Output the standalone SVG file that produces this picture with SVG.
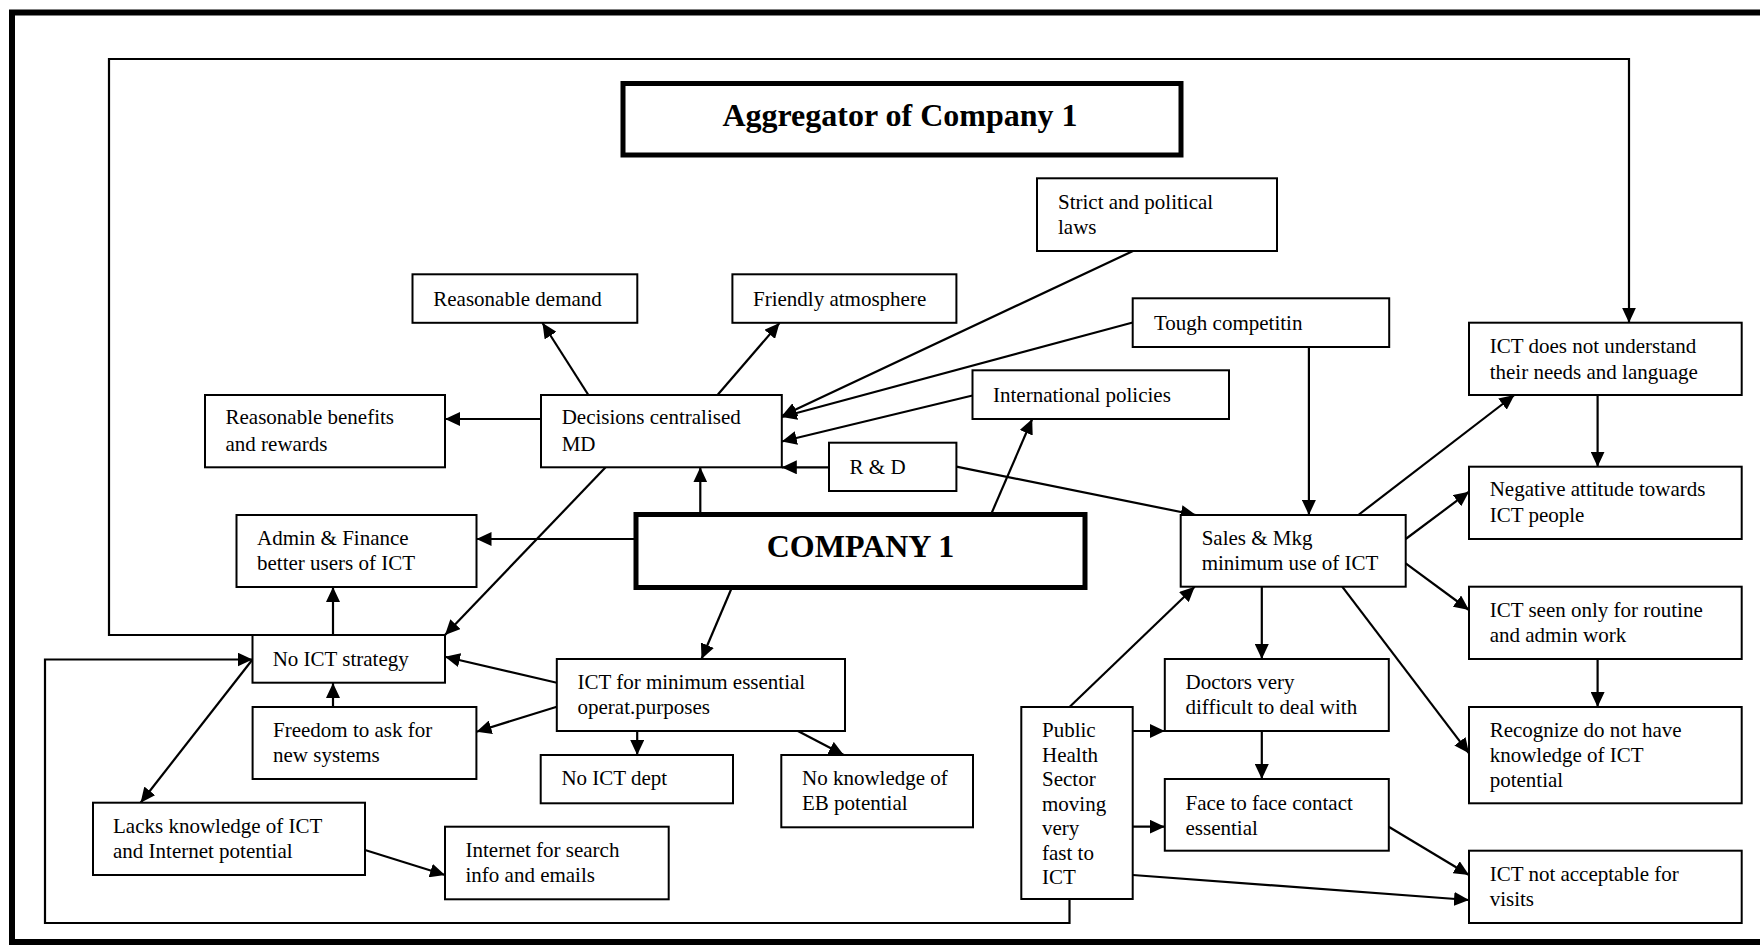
<svg xmlns="http://www.w3.org/2000/svg" width="1760" height="945" viewBox="0 0 1760 945">
  <style>
    .box { fill: #ffffff; stroke: #000000; stroke-width: 2; }
    .bold-box { fill: #ffffff; stroke: #000000; stroke-width: 5; }
    .t { font-family: "Liberation Serif", "Times New Roman", serif; font-size: 21px; fill: #000000; }
    .title { font-family: "Liberation Serif", "Times New Roman", serif; font-size: 32px; font-weight: bold; fill: #000000; text-anchor: middle; }
    .c { fill: none; stroke: #000000; stroke-width: 2; }
    .a { fill: none; stroke: #000000; stroke-width: 2.2; marker-end: url(#ah); }
  </style>
  <defs>
    <marker id="ah" viewBox="0 0 15 14" refX="15" refY="7" markerWidth="15" markerHeight="14" markerUnits="userSpaceOnUse" orient="auto">
      <path d="M0,0 L15,7 L0,14 z" fill="#000000"/>
    </marker>
  </defs>

  <rect width="1760" height="945" fill="#ffffff"/>
  <!-- outer frame -->
  <rect x="12" y="12.5" width="1800" height="929.5" fill="none" stroke="#000000" stroke-width="6"/>

  <!-- connectors -->
  <g id="connectors">
    <!-- feedback loops -->
    <path class="a" d="M252.5,635 H109 V59 H1629 V322.7"/>
    <path class="a" d="M1069.5,899 V923 H45 V659.5 H252.5"/>

    <!-- around Decisions centralised -->
    <line class="a" x1="541" y1="419" x2="445" y2="419"/>
    <line class="a" x1="588.4" y1="395" x2="542.5" y2="323"/>
    <line class="a" x1="717.5" y1="395" x2="779.5" y2="323"/>
    <line class="a" x1="1133" y1="251" x2="781.8" y2="416"/>
    <line class="a" x1="1132.7" y1="322.5" x2="781.8" y2="417"/>
    <line class="a" x1="972.5" y1="395.5" x2="781.8" y2="441.5"/>
    <line class="a" x1="829" y1="467.3" x2="781.8" y2="467.3"/>
    <line class="a" x1="605.6" y1="467.3" x2="445" y2="635"/>

    <!-- from COMPANY 1 -->
    <line class="a" x1="700.3" y1="514.5" x2="700.3" y2="467.3"/>
    <line class="a" x1="991" y1="514.5" x2="1032.2" y2="419"/>
    <line class="a" x1="636" y1="539" x2="476.5" y2="539"/>
    <line class="a" x1="731.9" y1="587.5" x2="701.5" y2="659"/>

    <!-- R & D to Sales -->
    <line class="a" x1="956.4" y1="466.7" x2="1195.8" y2="515"/>

    <!-- left cluster -->
    <line class="a" x1="333" y1="635" x2="333" y2="587"/>
    <line class="a" x1="333" y1="707" x2="333" y2="683"/>
    <line class="a" x1="556.8" y1="682.7" x2="445" y2="656.7"/>
    <line class="a" x1="556.8" y1="706.7" x2="476.5" y2="731.7"/>
    <line class="a" x1="637.2" y1="731" x2="637.2" y2="755"/>
    <line class="a" x1="797.9" y1="731" x2="843.8" y2="755"/>
    <line class="a" x1="252.5" y1="659.5" x2="140.6" y2="802.7"/>
    <line class="a" x1="365" y1="850" x2="445" y2="875"/>

    <!-- right cluster -->
    <line class="a" x1="1308.9" y1="347" x2="1308.9" y2="515"/>
    <line class="a" x1="1358.3" y1="515" x2="1514.4" y2="395"/>
    <line class="a" x1="1597.6" y1="395" x2="1597.6" y2="466.7"/>
    <line class="a" x1="1405.7" y1="539" x2="1469" y2="491.7"/>
    <line class="a" x1="1405.7" y1="563.3" x2="1469" y2="610"/>
    <line class="a" x1="1597.6" y1="659" x2="1597.6" y2="707"/>
    <line class="a" x1="1342.2" y1="586.7" x2="1469" y2="753.3"/>
    <line class="a" x1="1261.8" y1="586.7" x2="1261.8" y2="659"/>
    <line class="a" x1="1261.8" y1="731" x2="1261.8" y2="779"/>
    <line class="a" x1="1069.5" y1="707" x2="1194.7" y2="586.7"/>
    <line class="a" x1="1132.7" y1="731" x2="1164.8" y2="731"/>
    <line class="a" x1="1132.7" y1="826.7" x2="1164.8" y2="826.7"/>
    <line class="a" x1="1132.7" y1="875" x2="1469" y2="900"/>
    <line class="a" x1="1388.7" y1="826.7" x2="1469" y2="875"/>
  </g>

  <!-- nodes -->
  <g id="aggregator">
    <rect class="bold-box" x="623" y="83.5" width="558" height="71.5"/>
    <text class="title" x="900" y="126">Aggregator of Company 1</text>
  </g>
  <g id="company1">
    <rect class="bold-box" x="636" y="514.5" width="449" height="73"/>
    <text class="title" x="860.5" y="557">COMPANY 1</text>
  </g>
  <g id="strict-laws">
    <rect class="box" x="1037" y="178.3" width="240" height="72.7"/>
    <text class="t" x="1058" y="208.5">Strict and political</text>
    <text class="t" x="1058" y="234">laws</text>
  </g>
  <g id="reasonable-demand">
    <rect class="box" x="412.5" y="274.3" width="224.8" height="48.5"/>
    <text class="t" x="433.3" y="305.5">Reasonable demand</text>
  </g>
  <g id="friendly-atmosphere">
    <rect class="box" x="732.4" y="274.3" width="224" height="48.5"/>
    <text class="t" x="753" y="305.5">Friendly atmosphere</text>
  </g>
  <g id="tough-competition">
    <rect class="box" x="1132.7" y="298.3" width="256.5" height="48.7"/>
    <text class="t" x="1154" y="330">Tough competitin</text>
  </g>
  <g id="international-policies">
    <rect class="box" x="972.5" y="370.3" width="256.5" height="48.7"/>
    <text class="t" x="993" y="401.7">International policies</text>
  </g>
  <g id="benefits">
    <rect class="box" x="205" y="395" width="240" height="72.3"/>
    <text class="t" x="225.5" y="424.3">Reasonable benefits</text>
    <text class="t" x="225.5" y="450.5">and rewards</text>
  </g>
  <g id="decisions">
    <rect class="box" x="541" y="395" width="240.8" height="72.3"/>
    <text class="t" x="561.7" y="424.3">Decisions centralised</text>
    <text class="t" x="561.7" y="450.5">MD</text>
  </g>
  <g id="rnd">
    <rect class="box" x="829" y="442.7" width="127.4" height="48.3"/>
    <text class="t" x="849.6" y="474">R &amp; D</text>
  </g>
  <g id="ict-understand">
    <rect class="box" x="1469" y="322.7" width="272.7" height="72.3"/>
    <text class="t" x="1489.7" y="353">ICT does not understand</text>
    <text class="t" x="1489.7" y="379">their needs and language</text>
  </g>
  <g id="negative-attitude">
    <rect class="box" x="1469" y="466.7" width="272.7" height="72.3"/>
    <text class="t" x="1489.7" y="496">Negative attitude towards</text>
    <text class="t" x="1489.7" y="521.5">ICT people</text>
  </g>
  <g id="ict-routine">
    <rect class="box" x="1469" y="586.7" width="272.7" height="72.3"/>
    <text class="t" x="1489.7" y="616.5">ICT seen only for routine</text>
    <text class="t" x="1489.7" y="641.5">and admin work</text>
  </g>
  <g id="recognize">
    <rect class="box" x="1469" y="707" width="272.7" height="96.3"/>
    <text class="t" x="1489.7" y="737">Recognize do not have</text>
    <text class="t" x="1489.7" y="762">knowledge of ICT</text>
    <text class="t" x="1489.7" y="787">potential</text>
  </g>
  <g id="not-acceptable">
    <rect class="box" x="1469" y="850.7" width="272.7" height="72.3"/>
    <text class="t" x="1489.7" y="880.7">ICT not acceptable for</text>
    <text class="t" x="1489.7" y="906">visits</text>
  </g>
  <g id="sales">
    <rect class="box" x="1180.7" y="515" width="225" height="71.7"/>
    <text class="t" x="1201.7" y="545">Sales &amp; Mkg</text>
    <text class="t" x="1201.7" y="569.5">minimum use of ICT</text>
  </g>
  <g id="doctors">
    <rect class="box" x="1164.8" y="659" width="224" height="72"/>
    <text class="t" x="1185.5" y="689.3">Doctors very</text>
    <text class="t" x="1185.5" y="714.3">difficult to deal with</text>
  </g>
  <g id="face-to-face">
    <rect class="box" x="1164.8" y="779" width="224" height="71.7"/>
    <text class="t" x="1185.5" y="810">Face to face contact</text>
    <text class="t" x="1185.5" y="835">essential</text>
  </g>
  <g id="public-health">
    <rect class="box" x="1021.3" y="707" width="111.4" height="192"/>
    <text class="t" x="1042" y="737">Public</text>
    <text class="t" x="1042" y="761.5">Health</text>
    <text class="t" x="1042" y="786">Sector</text>
    <text class="t" x="1042" y="810.5">moving</text>
    <text class="t" x="1042" y="835">very</text>
    <text class="t" x="1042" y="859.5">fast to</text>
    <text class="t" x="1042" y="884">ICT</text>
  </g>
  <g id="admin-finance">
    <rect class="box" x="236.5" y="515" width="240" height="72"/>
    <text class="t" x="257" y="545">Admin &amp; Finance</text>
    <text class="t" x="257" y="569.5">better users of ICT</text>
  </g>
  <g id="no-ict-strategy">
    <rect class="box" x="252.5" y="635" width="192.5" height="47.7"/>
    <text class="t" x="272.7" y="665.5">No ICT strategy</text>
  </g>
  <g id="freedom">
    <rect class="box" x="252.6" y="707" width="223.8" height="72"/>
    <text class="t" x="273" y="736.7">Freedom to ask for</text>
    <text class="t" x="273" y="761.7">new systems</text>
  </g>
  <g id="ict-minimum">
    <rect class="box" x="556.8" y="659" width="288.2" height="72"/>
    <text class="t" x="577.5" y="689.3">ICT for minimum essential</text>
    <text class="t" x="577.5" y="714.3">operat.purposes</text>
  </g>
  <g id="no-ict-dept">
    <rect class="box" x="540.7" y="755" width="192.3" height="48.3"/>
    <text class="t" x="561.4" y="785">No ICT dept</text>
  </g>
  <g id="no-eb-knowledge">
    <rect class="box" x="781.3" y="755" width="191.7" height="72.3"/>
    <text class="t" x="802" y="785">No knowledge of</text>
    <text class="t" x="802" y="810">EB potential</text>
  </g>
  <g id="lacks-knowledge">
    <rect class="box" x="93" y="802.7" width="272" height="72.3"/>
    <text class="t" x="113" y="833">Lacks knowledge of ICT</text>
    <text class="t" x="113" y="858">and Internet potential</text>
  </g>
  <g id="internet-search">
    <rect class="box" x="445" y="826.7" width="223.7" height="72.6"/>
    <text class="t" x="465.5" y="856.7">Internet for search</text>
    <text class="t" x="465.5" y="881.7">info and emails</text>
  </g>
</svg>
